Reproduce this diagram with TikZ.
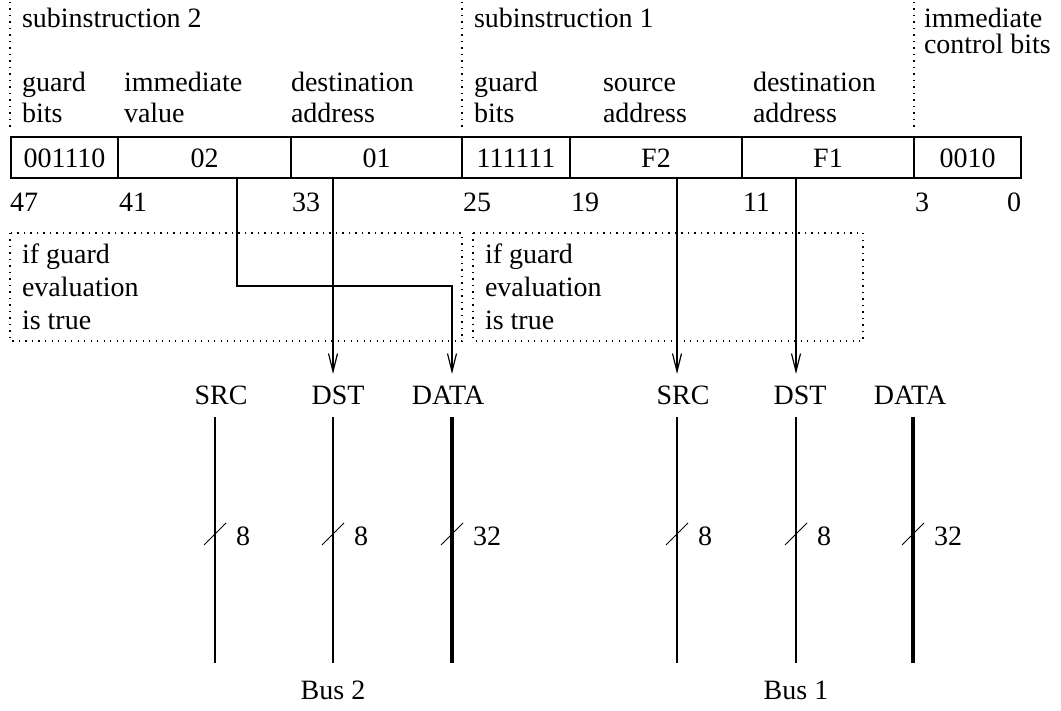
\documentclass[tikz,border=0pt]{standalone}
\usepackage{fontspec}
\setmainfont{Liberation Serif}
\usetikzlibrary{arrows.meta}
\begin{document}
\begin{tikzpicture}[x=1pt,y=-1pt,
  every node/.style={inner sep=0pt, outer sep=0pt, font=\fontsize{28}{33}\selectfont},
  lbl/.style={anchor=base west},
  cell/.style={draw, line width=1.2pt, minimum height=41pt, anchor=west, text height=21pt, text depth=0pt},
  sep/.style={line width=1.1pt, dash pattern=on 1.1pt off 5.4pt},
  arr/.style={line width=1.2pt, -{Straight Barb[length=18pt,width=9pt,line width=1.2pt]}},
  thinbus/.style={line width=2pt},
  thickbus/.style={line width=4.5pt},
  tick/.style={line width=1pt},
  buslbl/.style={anchor=base}
]
\useasboundingbox (0,0) rectangle (1061,711);

% header separators
\draw[sep] (10,2) -- (10,127);
\draw[sep] (462,2) -- (462,127);
\draw[sep] (914,2) -- (914,127);

% header texts
\node[lbl] (h2) at (22,28) {subinstruction 2};
\node[lbl] (h1) at (474,28) {subinstruction 1};
\node[lbl] (hic1) at (924,28) {immediate};
\node[lbl] (hic2) at (924,54) {control bits};
\node[lbl] (ga1) at (22,92) {guard};
\node[lbl] (ga2) at (22,123) {bits};
\node[lbl] (iv1) at (124,92) {immediate};
\node[lbl] (iv2) at (124,123) {value};
\node[lbl] (da1) at (291,92) {destination};
\node[lbl] (da2) at (291,123) {address};
\node[lbl] (gb1) at (474,92) {guard};
\node[lbl] (gb2) at (474,123) {bits};
\node[lbl] (sa1) at (603,92) {source};
\node[lbl] (sa2) at (603,123) {address};
\node[lbl] (db1) at (753,92) {destination};
\node[lbl] (db2) at (753,123) {address};

% instruction word
\node[cell, minimum width=107pt] (c47) at (11,157.5) {001110};
\node[cell, minimum width=173pt] (c41) at (c47.east) {02};
\node[cell, minimum width=171pt] (c33) at (c41.east) {01};
\node[cell, minimum width=108pt] (c25) at (c33.east) {111111};
\node[cell, minimum width=172pt] (c19) at (c25.east) {F2};
\node[cell, minimum width=172pt] (c11) at (c19.east) {F1};
\node[cell, minimum width=107pt] (c3) at (c11.east) {0010};

% bit numbers
\node[lbl] (b47) at (10,212) {47};
\node[lbl] (b41) at (119,212) {41};
\node[lbl] (b33) at (292,212) {33};
\node[lbl] (b25) at (463,212) {25};
\node[lbl] (b19) at (571,212) {19};
\node[lbl] (b11) at (743,212) {11};
\node[lbl] (b3) at (915,212) {3};
\node[anchor=base east] (b0) at (1021,212) {0};

% guard boxes
\draw[sep] (10,233) rectangle (462,341);
\draw[sep] (473,233) rectangle (863,341);
\node[lbl] (g2a) at (22,264) {if guard};
\node[lbl] (g2b) at (22,297) {evaluation};
\node[lbl] (g2c) at (22,330) {is true};
\node[lbl] (g1a) at (485,264) {if guard};
\node[lbl] (g1b) at (485,297) {evaluation};
\node[lbl] (g1c) at (485,330) {is true};

% buses
\foreach \n/\t/\x/\o/\w/\s in {src2/SRC/215/6/8/thinbus, dst2/DST/333/5/8/thinbus, data2/DATA/452/-4/32/thickbus,
                            src1/SRC/677/6/8/thinbus, dst1/DST/796/4/8/thinbus, data1/DATA/913/-3/32/thickbus} {
  \node[buslbl] (\n) at (\x+\o,405) {\t};
  \coordinate (\n-t) at (\x,374);
  \coordinate (\n-s) at (\x,417);
  \coordinate (\n-e) at (\x,663);
  \draw[\s] (\n-s) -- (\n-e);
  \draw[tick] (\x-11,545) -- (\x+11,523);
  \node[lbl] (\n-w) at (\x+21,545) {\w};
}
\node[anchor=base] (bus2) at (333,699) {Bus 2};
\node[anchor=base] (bus1) at (796,699) {Bus 1};

% connections
\draw[arr] ([xshift=32.5pt]c41.south) -- ++(0,108) -| (data2-t);
\draw[arr] (c33.south -| dst2-t) -- (dst2-t);
\draw[arr] (c19.south -| src1-t) -- (src1-t);
\draw[arr] (c11.south -| dst1-t) -- (dst1-t);
\end{tikzpicture}
\end{document}
